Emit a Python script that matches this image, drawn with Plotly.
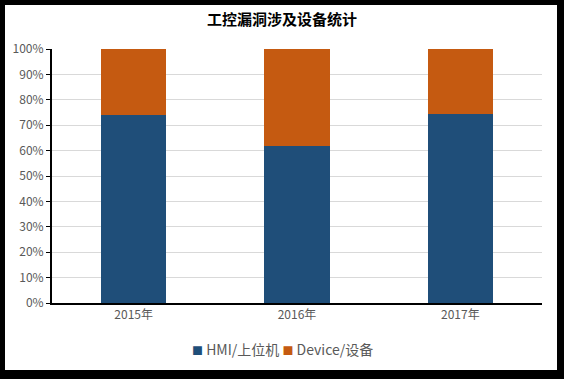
import plotly.graph_objects as go

years = ["2015年", "2016年", "2017年"]
hmi = [0.74, 0.62, 0.745]
device = [0.26, 0.38, 0.255]
y_ticks = [0, 0.1, 0.2, 0.3, 0.4, 0.5, 0.6, 0.7, 0.8, 0.9, 1.0]
names = ["HMI/上位机", "Device/设备"]
colors = ["#1F4E79", "#C55A11"]

L, R, T, B = 52, 22, 49, 76
W, H = 564, 379
pw, ph = W - L - R, H - T - B

def px_x(p):
    return (p - L) / pw

def px_y(p):
    return (H - B - p) / ph

fig = go.Figure()
fig.add_bar(x=years, y=hmi, name=names[0], marker_color=colors[0], marker_line_width=0)
fig.add_bar(x=years, y=device, name=names[1], marker_color=colors[1], marker_line_width=0)

legend_text = " ".join(
    f'<span style="color:{c};font-size:11px">■</span> {n}' for n, c in zip(names, colors)
)

fig.update_layout(
    width=W, height=H,
    margin=dict(l=L, r=R, t=T, b=B),
    paper_bgcolor="black",
    plot_bgcolor="white",
    barmode="stack",
    bargap=0.6,
    showlegend=False,
    font=dict(family="Noto Sans CJK SC, Noto Sans, sans-serif", color="#595959", size=12),
    title=dict(text="<b>工控漏洞涉及设备统计</b>", x=0.5, xanchor="center", y=1 - 20 / H, yanchor="middle",
               font=dict(size=15, color="black")),
    annotations=[dict(text=legend_text, xref="paper", yref="paper", x=px_x(282), y=px_y(349),
                      xanchor="center", yanchor="middle", showarrow=False,
                      font=dict(size=14, color="#595959"))],
    shapes=[dict(type="rect", xref="paper", yref="paper", x0=px_x(5), x1=px_x(557),
                 y0=px_y(370), y1=px_y(5), fillcolor="white", line_width=0, layer="below")],
)
fig.update_yaxes(range=[0, 1], tickvals=y_ticks, tickformat=".0%", showgrid=True, gridcolor="#D9D9D9",
                 gridwidth=1, showline=True, linecolor="black", linewidth=2, ticks="outside",
                 ticklen=4, tickcolor="black", tickfont=dict(size=12, color="#595959"), zeroline=False)
fig.update_xaxes(showline=True, linecolor="black", linewidth=2, ticks="", tickfont=dict(size=12, color="#595959"))

fig.write_html("out.html", config={"displayModeBar": False},
               post_script="document.body.style.margin='0';")
